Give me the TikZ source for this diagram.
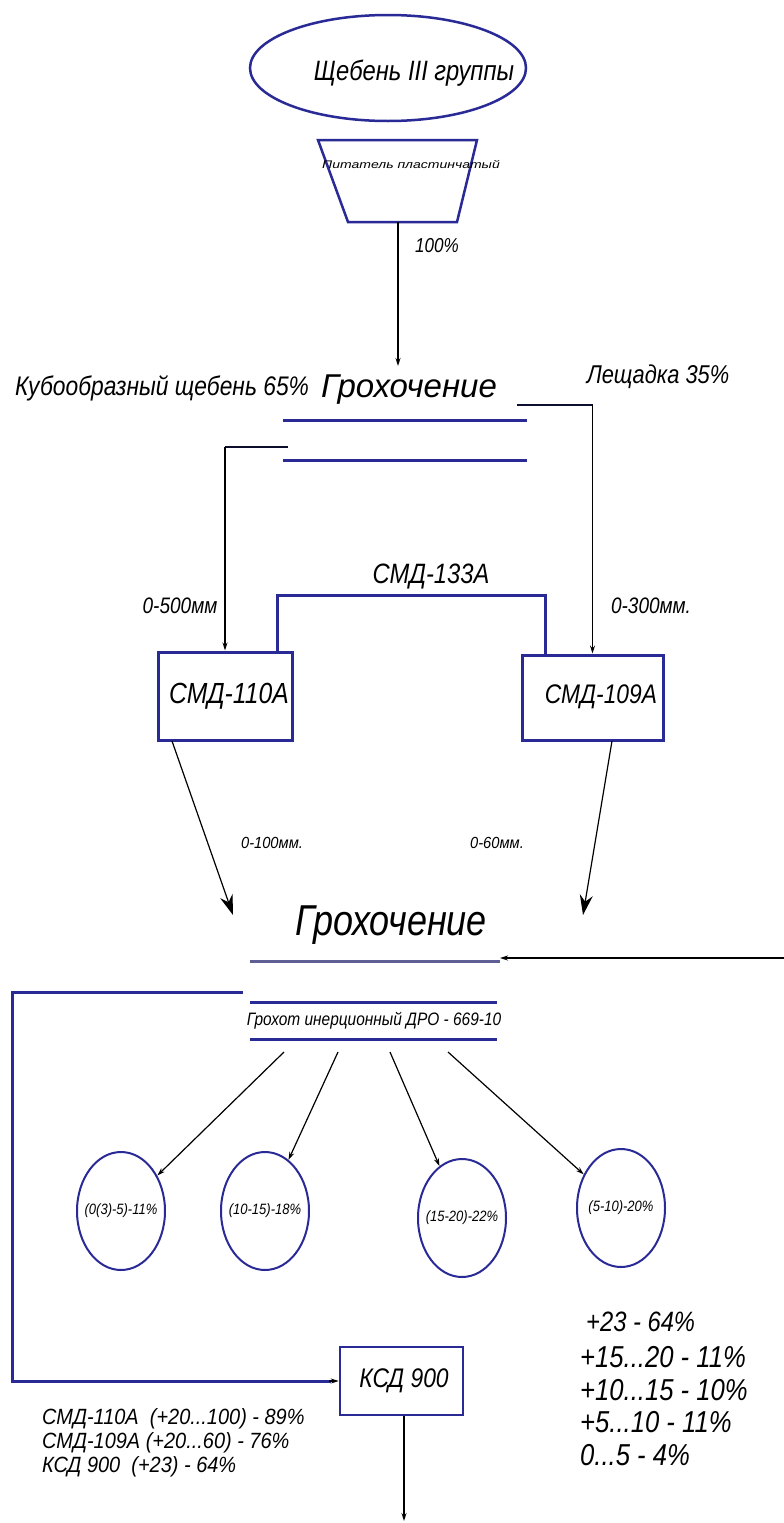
\documentclass[tikz,border=0pt]{standalone}
\usepackage{fontspec}
\setmainfont{Liberation Sans}
\usetikzlibrary{shapes.geometric,arrows.meta}
\definecolor{navyc}{RGB}{42,42,150}
\definecolor{greyblue}{RGB}{95,95,150}
\newcommand\fsz[1]{\fontsize{#1}{#1}\selectfont\itshape}
\newcommand\tall[1]{\scalebox{0.95}[1.12]{#1}}
\begin{document}
\begin{tikzpicture}[x=1pt,y=-1pt,
  blueline/.style={draw=navyc,line width=3pt},
  conn/.style={draw=black,line width=1.2pt},
  darkseg/.style={draw=black!70!navyc,line width=2.2pt},
  bigarrow/.style={conn,-{Stealth[length=20pt,width=13pt]}},
  smallarrow/.style={conn,-{Stealth[length=8pt,width=5pt]}},
  boxnode/.style={draw=navyc,line width=3pt,rectangle,inner sep=0pt},
  circnode/.style={draw=navyc,line width=2pt,ellipse,inner sep=0pt,minimum width=88pt,minimum height=118pt},
  txt/.style={inner sep=0pt}]
\useasboundingbox (0,0) rectangle (784,1523);
\fill[white] (0,0) rectangle (784,1523);

% source ellipse
\node[ellipse,draw=navyc,line width=2.5pt,minimum width=276pt,minimum height=106pt] (src) at (388,68) {};
\node[txt,font=\fsz{25}] (srct) at (414,73) {\tall{Щебень III группы}};

% feeder trapezoid
\coordinate (t1) at (318,140);
\coordinate (t2) at (477,140);
\coordinate (t3) at (457,222);
\coordinate (t4) at (348,222);
\draw[draw=navyc,line width=2.5pt] (t1) -- (t2) -- (t3) -- (t4) -- cycle;
\node[txt,font=\fsz{10}] (feedt) at (411,164) {\scalebox{1.4}[1.1]{Питатель пластинчатый}};
\coordinate (feedout) at (398,222);
\coordinate (scr1in) at (398,366);
\draw[smallarrow] (feedout) -- (scr1in);
\node[txt,font=\fsz{18}] (p100) at (437,246) {\tall{100\%}};

% first screening
\node[txt,font=\fsz{24}] (cub) at (162,388) {\tall{Кубообразный щебень 65\%}};
\node[txt,font=\fsz{33}] (scr1t) at (409,390) {Грохочение};
\node[txt,font=\fsz{23}] (leq) at (658,377) {\tall{Лещадка 35\%}};
\coordinate (s1a) at (283,420); \coordinate (s1b) at (527,420);
\coordinate (s1c) at (283,460); \coordinate (s1d) at (527,460);
\draw[blueline] (s1a) -- (s1b);
\draw[blueline] (s1c) -- (s1d);

% crushers
\node[boxnode,minimum width=134pt,minimum height=88pt] (cmd110) at (225,696) {};
\node[txt,font=\fsz{26}] at (229,696) {\tall{СМД-110А}};
\node[boxnode,minimum width=141pt,minimum height=85pt] (cmd109) at (592.5,697.5) {};
\node[txt,font=\fsz{24}] at (601,697) {\tall{СМД-109А}};

\coordinate (r1) at (517,405);
\coordinate (l1) at (288,447);
\draw[darkseg] (r1) -- (592.5,405);
\draw[smallarrow] (592.5,405) -- (cmd109.north);
\draw[darkseg] (l1) -- (225,447);
\draw[smallarrow] (225,447) -- (cmd110.north);

\node[txt,font=\fsz{20}] (p500) at (180,606) {\tall{0-500мм}};
\node[txt,font=\fsz{20}] (p300) at (651,606) {\tall{0-300мм.}};

% CMD-133A bracket
\coordinate (b1) at (277,595);
\coordinate (b2) at (545,595);
\draw[blueline] (b1 |- cmd110.north) -- (b1) -- (b2) -- (b2 |- cmd109.north);
\node[txt,font=\fsz{25}] (c133) at (431,577) {\tall{СМД-133А}};

% crusher outputs
\coordinate (o110) at (172,741);
\coordinate (o109) at (612,741);
\coordinate (i110) at (233,915);
\coordinate (i109) at (583,915);
\draw[bigarrow] (o110) -- (i110);
\draw[bigarrow] (o109) -- (i109);
\node[txt,font=\fsz{14}] (p100m) at (272,843) {\scalebox{1.05}[1.15]{0-100мм.}};
\node[txt,font=\fsz{14}] (p60m) at (497,843) {\scalebox{1.05}[1.15]{0-60мм.}};

% second screening
\node[txt,font=\fsz{36}] (scr2t) at (391,925) {\scalebox{1}[1.2]{Грохочение}};
\coordinate (s2a) at (250,961); \coordinate (s2b) at (500,961);
\draw[draw=greyblue,line width=3pt] (s2a) -- (s2b);
\coordinate (ret) at (784,958);
\draw[smallarrow] (ret) -- (s2b |- ret);

\coordinate (s3a) at (250,1002); \coordinate (s3b) at (497,1002);
\coordinate (s3c) at (250,1039); \coordinate (s3d) at (497,1039);
\draw[blueline] (s3a) -- (s3b);
\draw[blueline] (s3c) -- (s3d);
\node[txt,font=\fsz{15}] (dro) at (374,1021) {\scalebox{1.03}[1.2]{Грохот инерционный ДРО - 669-10}};

% fractions
\node[circnode] (c1) at (121,1211) {};
\node[circnode] (c2) at (265,1211) {};
\node[circnode] (c3) at (462,1218) {};
\node[circnode] (c4) at (621,1208) {};
\node[txt,font=\fsz{13}] at (c1) {\scalebox{1}[1.15]{(0(3)-5)-11\%}};
\node[txt,font=\fsz{13}] at (c2) {\scalebox{1}[1.15]{(10-15)-18\%}};
\node[txt,font=\fsz{13}] at (c3) {\scalebox{1}[1.15]{(15-20)-22\%}};
\node[txt,font=\fsz{13}] at (c4) {\scalebox{1}[1.15]{(5-10)-20\%}};
\coordinate (a1) at (284,1052);
\coordinate (a2) at (338,1052);
\coordinate (a3) at (390,1052);
\coordinate (a4) at (448,1052);
\draw[smallarrow] (a1) -- (c1);
\draw[smallarrow] (a2) -- (c2);
\draw[smallarrow] (a3) -- (c3);
\draw[smallarrow] (a4) -- (c4);

% KSD 900
\node[boxnode,line width=2.5pt,minimum width=123pt,minimum height=68pt] (ksd) at (401.5,1381) {};
\node[txt,font=\fsz{24}] at (404,1381) {\tall{КСД 900}};
\coordinate (lp1) at (243,992);
\coordinate (lp2) at (12,992);
\draw[blueline] (lp1) -- (lp2) -- (lp2 |- ksd.west) -- ([xshift=-8pt]ksd.west);
\draw[smallarrow] ([xshift=-10pt]ksd.west) -- (ksd.west);
\coordinate (out) at (404,1521);
\draw[smallarrow] (ksd.south -| out) -- (out);

% summaries
\node[txt,font=\fsz{21},anchor=west,align=left] (sumL) at (42,1443)
  {\scalebox{0.95}[1.05]{СМД-110А\ \ (+20...100) - 89\%}\\[3pt]\scalebox{0.95}[1.05]{СМД-109А (+20...60) - 76\%}\\[3pt]\scalebox{0.95}[1.05]{КСД 900\ \ (+23) - 64\%}};
\node[txt,font=\fsz{25},anchor=west] (r1t) at (586,1322) {\tall{+23 - 64\%}};
\node[txt,font=\fsz{27},anchor=west] (r2t) at (580,1357) {\tall{+15...20 - 11\%}};
\node[txt,font=\fsz{27},anchor=west] (r3t) at (580,1390) {\tall{+10...15 - 10\%}};
\node[txt,font=\fsz{27},anchor=west] (r4t) at (580,1422) {\tall{+5...10 - 11\%}};
\node[txt,font=\fsz{27},anchor=west] (r5t) at (580,1455) {\tall{0...5 - 4\%}};
\end{tikzpicture}
\end{document}
